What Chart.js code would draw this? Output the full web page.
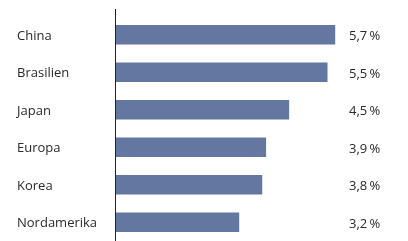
<!DOCTYPE html>
<html>
<head>
<meta charset="utf-8">
<script src="https://cdn.jsdelivr.net/npm/chart.js@4/dist/chart.umd.min.js"></script>
<style>
html,body{margin:0;padding:0;background:#fff;}
#wrap{width:408px;height:241px;position:relative;}
</style>
</head>
<body>
<div id="wrap"><canvas id="c"></canvas></div>
<script>
const categories = ["China", "Brasilien", "Japan", "Europa", "Korea", "Nordamerika"];
const values = [5.7, 5.5, 4.5, 3.9, 3.8, 3.2];
const valueLabels = ["5,7\u2009%", "5,5\u2009%", "4,5\u2009%", "3,9\u2009%", "3,8\u2009%", "3,2\u2009%"];

const FONT = "'Open Sans', sans-serif";
const TEXT = "#2a2a2a";

const extras = {
  id: 'extras',
  afterDraw(chart) {
    const ctx = chart.ctx;
    const ca = chart.chartArea;
    ctx.save();
    ctx.strokeStyle = '#222';
    ctx.lineWidth = 1;
    ctx.beginPath();
    ctx.moveTo(Math.round(ca.left) - 0.5, 9);
    ctx.lineTo(Math.round(ca.left) - 0.5, 241);
    ctx.stroke();
    const meta = chart.getDatasetMeta(0);
    const yScale = chart.scales.y;
    ctx.fillStyle = TEXT;
    ctx.font = "13px " + FONT;
    ctx.textBaseline = 'middle';
    meta.data.forEach((bar, i) => {
      ctx.textAlign = 'left';
      ctx.fillText(valueLabels[i], 349, bar.y + 2);
      ctx.fillText(categories[i], 17, yScale.getPixelForValue(i) + 1.5);
    });
    ctx.restore();
  }
};

new Chart(document.getElementById('c'), {
  type: 'bar',
  data: {
    labels: categories,
    datasets: [{
      data: values,
      backgroundColor: '#6477a0',
      barThickness: 19,
      borderWidth: 0
    }]
  },
  options: {
    indexAxis: 'y',
    responsive: true,
    maintainAspectRatio: false,
    animation: false,
    layout: { padding: { left: 17, right: 4, top: 16, bottom: 0 } },
    plugins: { legend: { display: false }, tooltip: { enabled: false } },
    scales: {
      x: {
        display: false,
        min: 0,
        max: 7.5
      },
      y: {
        grid: { display: false, drawTicks: false },
        border: { display: false },
        afterFit(scale) { scale.width = 99; scale.paddingTop = 0; scale.paddingBottom = 0; },
        ticks: {
          display: false,
          crossAlign: 'far',
          padding: 0,
          color: TEXT,
          font: { family: FONT, size: 13 }
        }
      }
    }
  },
  plugins: [extras]
});
</script>
</body>
</html>
